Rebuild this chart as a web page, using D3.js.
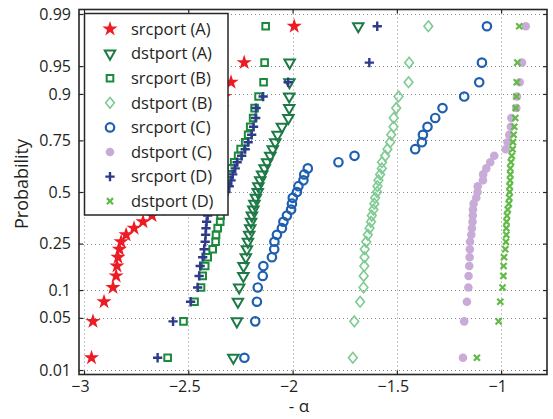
<!DOCTYPE html>
<html>
<head>
<meta charset="utf-8">
<script src="https://cdn.jsdelivr.net/npm/d3@7"></script>
<style>
body { margin: 0; background: #fff; }
text { font-family: "Open Sans", sans-serif; fill: #231f20; }
</style>
</head>
<body>
<svg id="chart" width="553" height="419"></svg>
<script>
'use strict';

const probTicks = [0.01, 0.05, 0.1, 0.25, 0.5, 0.75, 0.9, 0.95, 0.99];
const probTickLabels = ['0.01', '0.05', '0.1', '0.25', '0.5', '0.75', '0.9', '0.95', '0.99'];
const alphaTicks = [-3, -2.5, -2, -1.5, -1];
const alphaTickLabels = ['\u22123', '\u22122.5', '\u22122', '\u22121.5', '\u22121'];

const seriesNames = ['srcport (A)', 'dstport (A)', 'srcport (B)', 'dstport (B)',
    'srcport (C)', 'dstport (C)', 'srcport (D)', 'dstport (D)'];

// sorted estimated exponents, 33 per series
const srcportA = [-2.964, -2.957, -2.904, -2.861, -2.846, -2.842, -2.837, -2.830, -2.822, -2.798, -2.760,
    -2.717, -2.674, -2.635, -2.607, -2.578, -2.554, -2.530, -2.506, -2.487, -2.467, -2.448, -2.429,
    -2.410, -2.391, -2.376, -2.366, -2.352, -2.338, -2.328, -2.295, -2.232, -1.992];
const dstportA = [-2.284, -2.267, -2.262, -2.256, -2.236, -2.235, -2.224, -2.219, -2.214, -2.208, -2.203,
    -2.199, -2.195, -2.188, -2.183, -2.176, -2.167, -2.164, -2.155, -2.146, -2.134, -2.122, -2.107,
    -2.095, -2.083, -2.072, -2.051, -2.020, -2.016, -2.016, -2.015, -2.014, -1.685];
const srcportB = [-2.599, -2.523, -2.470, -2.439, -2.431, -2.419, -2.407, -2.383, -2.369, -2.367, -2.359,
    -2.347, -2.345, -2.343, -2.338, -2.333, -2.326, -2.319, -2.309, -2.302, -2.295, -2.280, -2.261,
    -2.249, -2.227, -2.213, -2.203, -2.189, -2.182, -2.163, -2.139, -2.134, -2.129];
const dstportB = [-1.711, -1.704, -1.676, -1.660, -1.659, -1.656, -1.655, -1.654, -1.647, -1.639, -1.631,
    -1.624, -1.620, -1.612, -1.608, -1.604, -1.595, -1.593, -1.588, -1.580, -1.572, -1.571, -1.556,
    -1.545, -1.532, -1.527, -1.516, -1.515, -1.503, -1.492, -1.444, -1.441, -1.349];
const srcportC = [-2.231, -2.179, -2.171, -2.167, -2.143, -2.140, -2.099, -2.088, -2.087, -2.075, -2.051,
    -2.044, -2.027, -2.007, -2.003, -1.999, -1.979, -1.972, -1.948, -1.944, -1.927, -1.780, -1.703,
    -1.412, -1.380, -1.375, -1.353, -1.316, -1.281, -1.177, -1.105, -1.092, -1.068];
const dstportC = [-1.183, -1.177, -1.164, -1.157, -1.156, -1.153, -1.151, -1.150, -1.149, -1.143, -1.140,
    -1.137, -1.136, -1.135, -1.132, -1.119, -1.113, -1.112, -1.087, -1.086, -1.071, -1.052, -1.033,
    -0.978, -0.969, -0.961, -0.953, -0.951, -0.927, -0.924, -0.911, -0.900, -0.882];
const srcportD = [-2.647, -2.573, -2.489, -2.455, -2.448, -2.443, -2.431, -2.424, -2.419, -2.417, -2.415,
    -2.412, -2.407, -2.391, -2.367, -2.343, -2.319, -2.304, -2.295, -2.287, -2.275, -2.266, -2.244,
    -2.227, -2.213, -2.196, -2.187, -2.177, -2.175, -2.141, -2.021, -1.632, -1.594];
const dstportD = [-1.116, -1.012, -1.004, -0.993, -0.989, -0.988, -0.986, -0.980, -0.977, -0.975, -0.975,
    -0.974, -0.972, -0.968, -0.963, -0.961, -0.959, -0.959, -0.957, -0.956, -0.956, -0.953, -0.949,
    -0.945, -0.943, -0.940, -0.937, -0.932, -0.930, -0.927, -0.925, -0.922, -0.913];

const seriesValues = [srcportA, dstportA, srcportB, dstportB, srcportC, dstportC, srcportD, dstportD];

// marker styles
const markers = [
    { type: d3.symbolStar, size: 72, fill: '#ed1c24', stroke: 'none', sw: 0 },
    { type: d3.symbolTriangle2, size: 78, fill: 'none', stroke: '#1d7a46', sw: 2, rot: 180 },
    { type: d3.symbolSquare2, size: 56, fill: 'none', stroke: '#1b8a3c', sw: 2 },
    { type: d3.symbolDiamond2, size: 72, fill: 'none', stroke: '#7dcb92', sw: 1.8, sx: 0.82 },
    { type: d3.symbolCircle, size: 56, fill: 'none', stroke: '#1f5fb0', sw: 2.2 },
    { type: d3.symbolCircle, size: 58, fill: '#c9abd8', stroke: 'none', sw: 0 },
    { type: d3.symbolPlus, size: 30, fill: 'none', stroke: '#2e3a8c', sw: 2.4 },
    { type: d3.symbolTimes, size: 26, fill: 'none', stroke: '#62bb46', sw: 2.2 }
];

// inverse normal cdf (Acklam)
function probit(p)
{
    const a = [-3.969683028665376e+01, 2.209460984245205e+02, -2.759285104469687e+02, 1.383577518672690e+02, -3.066479806614716e+01, 2.506628277459239e+00];
    const b = [-5.447609879822406e+01, 1.615858368580409e+02, -1.556989798598866e+02, 6.680131188771972e+01, -1.328068155288572e+01];
    const c = [-7.784894002430293e-03, -3.223964580411365e-01, -2.400758277161838e+00, -2.549732539343734e+00, 4.374664141464968e+00, 2.938163982698783e+00];
    const d = [7.784695709041462e-03, 3.224671290700398e-01, 2.445134137142996e+00, 3.754408661907416e+00];
    const pl = 0.02425;
    let q, r;
    if (p < pl) {
        q = Math.sqrt(-2 * Math.log(p));
        return (((((c[0]*q+c[1])*q+c[2])*q+c[3])*q+c[4])*q+c[5]) / ((((d[0]*q+d[1])*q+d[2])*q+d[3])*q+1);
    }
    if (p > 1 - pl) {
        q = Math.sqrt(-2 * Math.log(1 - p));
        return -(((((c[0]*q+c[1])*q+c[2])*q+c[3])*q+c[4])*q+c[5]) / ((((d[0]*q+d[1])*q+d[2])*q+d[3])*q+1);
    }
    q = p - 0.5;
    r = q * q;
    return (((((a[0]*r+a[1])*r+a[2])*r+a[3])*r+a[4])*r+a[5])*q / (((((b[0]*r+b[1])*r+b[2])*r+b[3])*r+b[4])*r+1);
}

const svg = d3.select('#chart');
const plotLeft = 79, plotRight = 547, plotTop = 9.5, plotBottom = 374.5;

const x = d3.scaleLinear().domain([-3.024, -0.78]).range([plotLeft, plotRight]);
const y = d3.scaleLinear().domain([-2.385, 2.385]).range([plotBottom, plotTop]);
const yTicks = probTicks.map(probit);

// grid
const grid = svg.append('g')
    .attr('stroke', '#8a8a8a')
    .attr('stroke-width', 1)
    .attr('stroke-dasharray', '1,3');
grid.selectAll('.gx').data(alphaTicks).enter().append('line')
    .attr('x1', d => Math.round(x(d)) + 0.5).attr('x2', d => Math.round(x(d)) + 0.5)
    .attr('y1', plotTop).attr('y2', plotBottom);
grid.selectAll('.gy').data(yTicks).enter().append('line')
    .attr('y1', d => Math.round(y(d)) + 0.5).attr('y2', d => Math.round(y(d)) + 0.5)
    .attr('x1', plotLeft).attr('x2', plotRight);

// axes, ticks pointing inward on all four sides
function styleAxis(g)
{
    g.select('.domain').remove();
    g.selectAll('line').attr('stroke', '#262626').attr('stroke-width', 1.2);
    g.selectAll('text').style('font-family', '"Open Sans", sans-serif').style('font-size', '16px').attr('fill', '#231f20');
}

svg.append('g').attr('transform', 'translate(0,' + plotBottom + ')')
    .call(d3.axisBottom(x).tickValues(alphaTicks).tickFormat((d, i) => alphaTickLabels[i]).tickSize(-4).tickPadding(6))
    .call(styleAxis)
    .selectAll('text').attr('dx', '-4');
svg.append('g').attr('transform', 'translate(0,' + plotTop + ')')
    .call(d3.axisTop(x).tickValues(alphaTicks).tickFormat('').tickSize(-4))
    .call(styleAxis);
svg.append('g').attr('transform', 'translate(' + plotLeft + ',0)')
    .call(d3.axisLeft(y).tickValues(yTicks).tickFormat((d, i) => probTickLabels[i]).tickSize(-4).tickPadding(8))
    .call(styleAxis);
svg.append('g').attr('transform', 'translate(' + plotRight + ',0)')
    .call(d3.axisRight(y).tickValues(yTicks).tickFormat('').tickSize(-4))
    .call(styleAxis);

svg.append('rect')
    .attr('x', plotLeft).attr('y', plotTop)
    .attr('width', plotRight - plotLeft).attr('height', plotBottom - plotTop)
    .attr('fill', 'none').attr('stroke', '#262626').attr('stroke-width', 1.6);

// points
function markerTransform(m, px, py)
{
    let t = 'translate(' + px + ',' + py + ')';
    if (m.rot) t += ' rotate(' + m.rot + ')';
    if (m.sx) t += ' scale(' + m.sx + ',1)';
    return t;
}

seriesValues.forEach((vals, k) => {
    const m = markers[k];
    const n = vals.length;
    svg.append('g').selectAll('path')
        .data(vals).enter().append('path')
        .attr('d', d3.symbol().type(m.type).size(m.size))
        .attr('transform', (d, i) => markerTransform(m, x(d), y(probit((i + 0.5) / n))))
        .attr('fill', m.fill)
        .attr('stroke', m.stroke)
        .attr('stroke-width', m.sw);
});

// legend
const legend = svg.append('g');
legend.append('rect')
    .attr('x', 84.5).attr('y', 13.5).attr('width', 143.5).attr('height', 201.5)
    .attr('fill', '#fff').attr('stroke', '#262626').attr('stroke-width', 1.5);
seriesNames.forEach((name, k) => {
    const m = markers[k];
    const ly = 29 + k * 24.6;
    legend.append('path')
        .attr('d', d3.symbol().type(m.type).size(m.size))
        .attr('transform', markerTransform(m, 110, ly))
        .attr('fill', m.fill)
        .attr('stroke', m.stroke)
        .attr('stroke-width', m.sw);
    legend.append('text')
        .attr('x', 131).attr('y', ly)
        .attr('dy', '0.35em')
        .style('font-size', '16.5px')
        .text(name);
});

// axis titles
svg.append('text')
    .attr('transform', 'translate(28,184) rotate(-90)')
    .attr('text-anchor', 'middle')
    .style('font-size', '18px')
    .text('Probability');
svg.append('text')
    .attr('x', 299).attr('y', 412)
    .attr('text-anchor', 'middle')
    .style('font-size', '17px')
    .text('- \u03b1');
</script>
</body>
</html>
